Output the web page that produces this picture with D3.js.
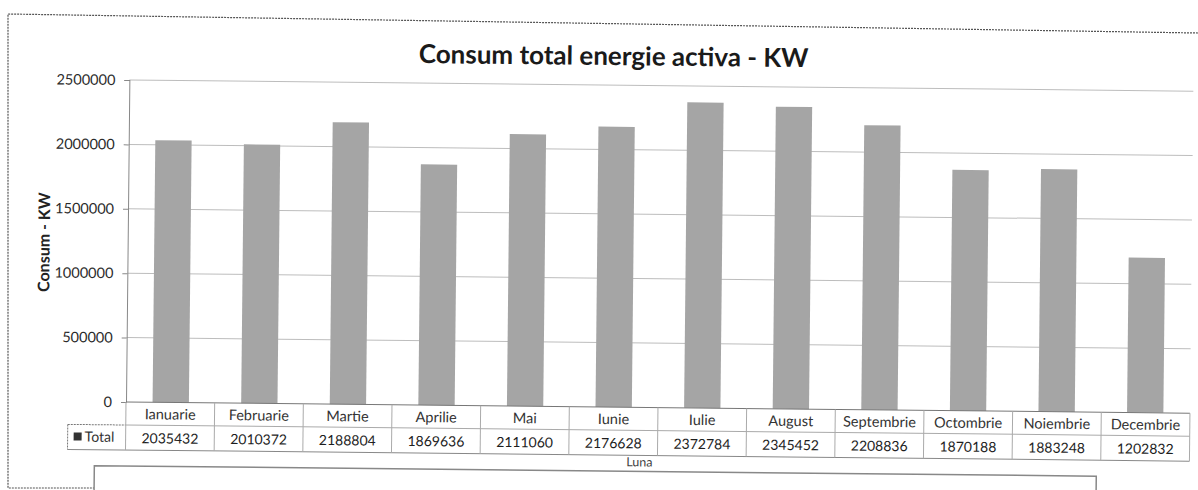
<!DOCTYPE html>
<html><head><meta charset="utf-8">
<script src="https://cdn.jsdelivr.net/npm/d3@7"></script>
<style>body{margin:0;background:#fff}svg{display:block}text{font-family:Lato,"Open Sans",sans-serif}</style>
</head><body><svg id="c" width="1198" height="490"></svg>
<script>
const months = ["Ianuarie","Februarie","Martie","Aprilie","Mai","Iunie","Iulie","August","Septembrie","Octombrie","Noiembrie","Decembrie"];
const totals = [2035432,2010372,2188804,1869636,2111060,2176628,2372784,2345452,2208836,1870188,1883248,1202832];
const yTicks = [0,500000,1000000,1500000,2000000,2500000];
const title = "Consum total energie activa - KW";
const yTitle = "Consum - KW";
const xTitle = "Luna";
const seriesName = "Total";

const svg = d3.select("#c");
const L = 126, R = 1190, T = 80, B = 402;
const x = d3.scaleBand().domain(months).range([L, R]).paddingInner(0.59).paddingOuter(0.3);
const xCol = d3.scaleBand().domain(months).range([L, R]);
const y = d3.scaleLinear().domain([0, 2500000]).range([B, T]);

// outer dashed border
svg.append("path").attr("d", `M1198,33 L8,14 L8,488 L94,488`).attr("fill","none")
  .attr("stroke","#555").attr("stroke-width",1.2).attr("stroke-dasharray","2,1");

const g = svg.append("g").attr("transform", `rotate(0.6 ${L} ${B})`);

g.append("text").attr("x", 610).attr("y", 60).attr("text-anchor","middle")
  .attr("font-size", 26).attr("font-weight","bold").attr("fill","#1a1a1a").text(title);

// gridlines
g.append("g").selectAll("line").data(yTicks.slice(1)).join("line")
  .attr("x1", L).attr("x2", R).attr("y1", d=>y(d)).attr("y2", d=>y(d))
  .attr("stroke","#bdbdbd").attr("stroke-width",1);

// y axis
const ya = g.append("g").attr("transform", `translate(${L},0)`)
  .call(d3.axisLeft(y).tickValues(yTicks).tickSize(5).tickPadding(9).tickFormat(d3.format("d")));
ya.select(".domain").attr("stroke","#888");
ya.selectAll(".tick line").attr("stroke","#888");
ya.selectAll("text").attr("font-size", 14.5).attr("fill","#2a2a2a")
  .attr("font-family","Lato,sans-serif");

g.append("text").attr("transform", `translate(48,243) rotate(-90)`).attr("text-anchor","middle")
  .attr("font-size", 16).attr("font-weight","bold").attr("fill","#222").text(yTitle);

// bars
g.append("g").selectAll("rect").data(months).join("rect")
  .attr("x", d=>x(d)).attr("width", x.bandwidth())
  .attr("y", (d,i)=>y(totals[i])).attr("height", (d,i)=>y(0)-y(totals[i]))
  .attr("fill","#a5a5a5");

// data table
const r1 = B, r2 = B + 23, r3 = B + 48;
const tb = g.append("g");
tb.append("line").attr("x1", L).attr("x2", R).attr("y1", r1).attr("y2", r1).attr("stroke","#777");
tb.append("line").attr("x1", L).attr("x2", R).attr("y1", r2).attr("y2", r2).attr("stroke","#aaa");
tb.append("line").attr("x1", 68).attr("x2", R).attr("y1", r3).attr("y2", r3).attr("stroke","#888");
tb.append("line").attr("x1", 68).attr("x2", L).attr("y1", r2).attr("y2", r2).attr("stroke","#777").attr("stroke-dasharray","2,1");
tb.append("line").attr("x1", 68).attr("x2", 68).attr("y1", r2).attr("y2", r3).attr("stroke","#777").attr("stroke-dasharray","2,1");
tb.selectAll("line.v").data(months.concat(["end"])).join("line").attr("class","v")
  .attr("x1", (d,i)=> i<12 ? xCol(d) : R).attr("x2", (d,i)=> i<12 ? xCol(d) : R)
  .attr("y1", r1).attr("y2", r3).attr("stroke","#aaa");
tb.selectAll("text.m").data(months).join("text").attr("class","m")
  .attr("x", d=>xCol(d)+xCol.bandwidth()/2).attr("y", r1+17).attr("text-anchor","middle")
  .attr("font-size", 14.5).attr("fill","#333").text(d=>d);
tb.selectAll("text.v").data(totals).join("text").attr("class","v")
  .attr("x", (d,i)=>xCol(months[i])+xCol.bandwidth()/2).attr("y", r2+18).attr("text-anchor","middle")
  .attr("font-size", 14).attr("fill","#1e1e1e").text(d=>d);
tb.append("rect").attr("x", 74).attr("y", r2+8).attr("width", 8).attr("height", 8).attr("fill","#333");
tb.append("text").attr("x", 85).attr("y", r2+17).attr("font-size", 14).attr("fill","#333").text(seriesName);

g.append("text").attr("x", 640).attr("y", 461).attr("text-anchor","middle")
  .attr("font-size", 12.5).attr("fill","#444").text(xTitle);

// bottom box
g.append("path").attr("d", `M95,494 L95,466 L1097,466 L1097,494`).attr("fill","none")
  .attr("stroke","#888").attr("stroke-width",1.5);
</script></body></html>
